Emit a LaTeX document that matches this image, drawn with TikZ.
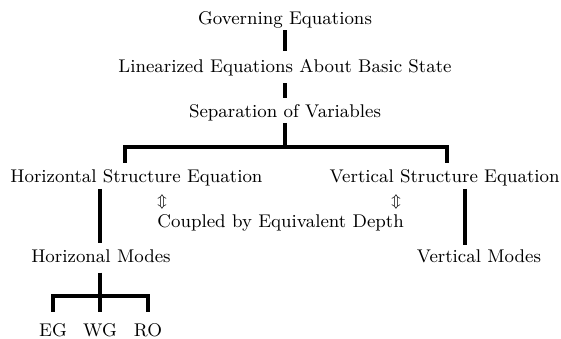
\documentclass[tikz,border=0pt]{standalone}
\begin{document}
\begin{tikzpicture}[x=0.5pt,y=-0.5pt,
  txt/.style={inner sep=1pt, font=\fontsize{9.2}{11}\selectfont},
  arr/.style={inner sep=0pt, font=\fontsize{7.5}{8}\selectfont},
  conn/.style={line width=1.9pt}]
\useasboundingbox (0,0) rectangle (561,338);
% text nodes
\node[txt,anchor=base] (gov) at (285,24) {Governing Equations};
\node[txt,anchor=base] (lin) at (285,72) {Linearized Equations About Basic State};
\node[txt,anchor=base] (sep) at (285,117) {Separation of Variables};
\node[txt,anchor=base west,inner sep=0pt] (hse) at (10,182) {Horizontal Structure Equation};
\node[txt,anchor=base east,inner sep=0pt] (vse) at (560,182) {Vertical Structure Equation};
\node[arr] (ua) at (162,202) {$\Updownarrow$};
\node[arr] (ub) at (396,202) {$\Updownarrow$};
\node[txt,anchor=base west,inner sep=0pt] (cpl) at (157,227) {Coupled by Equivalent Depth};
\node[txt,anchor=base] (hm) at (101,262) {Horizonal Modes};
\node[txt,anchor=base] (vm) at (479,262) {Vertical Modes};
\node[txt,anchor=base] (eg) at (53,336) {EG};
\node[txt,anchor=base] (wg) at (100,336) {WG};
\node[txt,anchor=base] (ro) at (148,336) {RO};
% junction coordinates
\coordinate (jt) at (285,147);
\coordinate (lb) at (125,147);
\coordinate (rb) at (447,147);
\coordinate (rl) at (465,0);
\coordinate (jb) at (100,296);
% connectors
\draw[conn] (gov.south) -- ([yshift=2.5pt]lin.north);
\draw[conn] ([yshift=-2.7pt]lin.south) -- ([yshift=2pt]sep.north);
\draw[conn] (sep.south) -- (jt);
\draw[conn] ([yshift=3pt]lb |- hse.north) -- (lb) -- (rb) -- ([yshift=3pt]rb |- vse.north);
\draw[conn] ([yshift=-1.5pt]hse.south -| wg) -- ([yshift=2pt]hm.north -| wg);
\draw[conn] ([yshift=-1.5pt]vse.south -| rl) -- ([yshift=1pt]vm.north -| rl);
\draw[conn] ([yshift=-4pt]hm.south -| wg) -- (jb);
\draw[conn] ([yshift=4.5pt]eg.north) -- (eg |- jb) -- (ro |- jb) -- ([yshift=4.5pt]ro.north);
\draw[conn] (jb) -- ([yshift=4.5pt]wg.north);
\end{tikzpicture}
\end{document}
